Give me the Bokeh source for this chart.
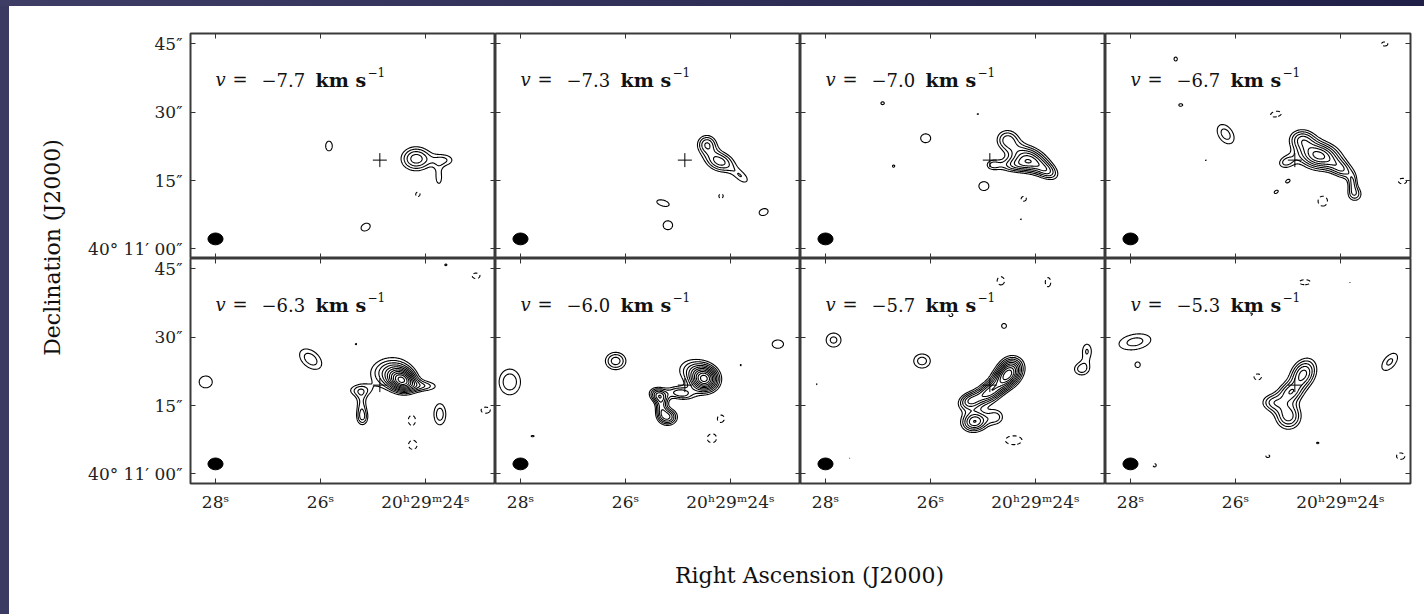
import numpy as np
from bokeh.plotting import figure
from bokeh.layouts import row, column
from bokeh.models import Range1d, FixedTicker, LinearAxis, Div
from bokeh.core.properties import value
from bokeh.embed import file_html
from bokeh.resources import INLINE

# Reference position (continuum peak): 20h29m24.87s, +40d11'19.5"
RA0 = 24.87
DEC0 = 19.5
SEC2AS = 15.0 * np.cos(np.radians(40 + 11 / 60 + DEC0 / 3600))

velocities = ["\u22127.7", "\u22127.3", "\u22127.0", "\u22126.7",
              "\u22126.3", "\u22126.0", "\u22125.7", "\u22125.3"]

# Emission components per channel: (x offset west ["], y offset north ["],
# peak [sigma], major sigma ["], minor sigma ["], position angle [deg])
ch_m77 = [
    (7.9, 0.3, 6.6, 2.6, 2.1, 0), (14.2, 0.0, 3.8, 2.1, 1.3, 0),
    (12.9, -4.0, 3.5, 0.9, 1.9, 0),
    (-11.1, 3.1, 3.5, 1.3, 1.9, 0), (-3.1, -14.7, 3.5, 1.9, 1.4, 30),
    (8.3, -7.5, -3.25, 1.2, 1.2, 0),
]
ch_m73 = [
    (7.6, -0.3, 6.5, 2.6, 1.7, -20), (4.8, 3.6, 5.6, 1.7, 1.6, 0),
    (12.5, -3.8, 3.6, 2.0, 1.1, -40),
    (-4.8, -9.4, 3.5, 2.4, 1.1, -15), (-3.7, -14.3, 3.6, 1.7, 1.6, 0),
    (17.2, -11.4, 3.5, 1.8, 1.3, 20), (7.9, -7.9, -3.25, 1.2, 1.2, 0),
]
ch_m70 = [
    (8.6, 0.2, 8.0, 3.2, 2.0, -25), (3.8, 4.6, 5.0, 2.0, 1.8, 0),
    (12.8, -2.6, 4.2, 2.0, 1.3, -30), (4.8, -1.2, 4.2, 2.6, 1.2, 0),
    (0.5, -1.0, 3.4, 1.3, 1.0, 0),
    (-23.4, 12.5, 3.15, 1.2, 1.0, 0), (-14.0, 4.8, 3.6, 1.8, 1.6, 0),
    (-21.0, -1.3, 3.1, 1.0, 1.0, 0), (-2.6, 10.1, 3.05, 1.0, 0.6, 0),
    (-1.3, -5.7, 3.6, 1.8, 1.6, 0), (7.4, -8.5, -3.3, 1.3, 1.2, 0),
    (6.8, -13.0, 3.05, 0.7, 0.7, 0),
]
ch_m67 = [
    (5.2, 1.0, 9.3, 3.4, 2.2, -10), (1.5, 4.8, 5.0, 2.2, 1.7, 0),
    (-2.0, -0.5, 4.0, 1.6, 1.2, 20), (10.5, -2.2, 4.8, 2.2, 1.4, -30),
    (13.1, -7.5, 4.6, 1.4, 1.4, 0), (12.6, -5.0, 3.4, 0.8, 1.4, 0),
    (-15.1, 5.7, 4.5, 2.6, 1.7, -55), (-24.9, 12.1, 3.2, 1.2, 0.8, 0),
    (-26.0, 22.2, 3.2, 1.0, 1.2, 0), (-4.1, 10.1, -3.4, 2.4, 1.2, 10),
    (-19.4, 0.0, 3.05, 0.7, 0.6, 0), (-1.5, -4.6, 3.2, 1.2, 0.8, 30),
    (-4.1, -7.0, 3.2, 1.2, 0.8, 30), (6.1, -9.0, -3.6, 1.7, 1.8, 0),
    (6.5, -13.0, 3.1, 1.1, 0.7, 0), (19.6, 25.5, -3.3, 1.6, 1.0, 0),
    (23.5, -4.6, -3.4, 1.8, 1.2, 0),
]
ch_m63 = [
    (5.0, 0.9, 10.5, 2.2, 1.8, -20), (2.0, 3.0, 5.5, 3.6, 2.6, 10),
    (10.0, -0.2, 4.0, 2.4, 1.0, 0), (-4.5, -1.2, 4.0, 2.2, 1.2, 0),
    (-4.0, -4.2, 3.6, 1.0, 1.8, 0), (-3.8, -7.2, 4.6, 1.1, 1.5, 0),
    (-38.0, 0.7, 3.7, 2.2, 2.0, 0), (-15.1, 5.7, 4.6, 3.0, 1.9, -40),
    (-5.2, 9.0, 3.05, 0.7, 0.7, 0), (14.4, 26.4, 3.1, 1.0, 0.7, 0),
    (21.0, 24.0, -3.4, 1.7, 1.2, 0), (13.1, -6.4, 4.6, 1.4, 2.5, 0),
    (7.0, -7.7, -3.5, 1.4, 1.9, 0), (7.2, -13.2, -3.5, 1.6, 1.6, 0),
    (23.1, -5.5, -3.5, 1.8, 1.2, 0),
]
ch_m60 = [
    (4.4, 1.2, 11.0, 2.2, 2.0, 0), (1.5, 3.5, 4.0, 3.0, 2.2, 0),
    (-1.0, -1.8, 5.5, 2.2, 1.1, -10), (-5.8, -2.2, 6.5, 1.6, 1.2, -20),
    (-5.2, -4.8, 4.5, 1.0, 1.6, 0), (-3.7, -7.0, 7.0, 1.6, 1.4, 0),
    (-38.2, 0.7, 4.8, 2.4, 2.9, 0), (-15.1, 5.3, 5.6, 2.0, 1.7, 0),
    (12.2, 4.4, 3.05, 0.7, 0.7, 0), (20.3, 9.0, 3.7, 1.9, 1.4, 0),
    (7.9, -7.3, -3.4, 1.4, 1.4, 0), (5.9, -11.7, -3.5, 1.8, 1.7, 0),
    (-33.2, -11.2, 3.1, 1.4, 0.6, 0),
]
ch_m57 = [
    (3.7, 2.0, 9.5, 2.2, 1.8, 30), (0.0, -1.5, 8.0, 2.5, 1.6, 30),
    (-4.5, -3.5, 6.0, 2.0, 1.4, 20), (-3.3, -8.0, 8.0, 2.2, 1.7, 10),
    (1.5, -7.0, 4.0, 1.5, 1.5, 0), (5.0, 4.5, 4.5, 2.0, 1.8, 0),
    (-34.1, 9.9, 4.3, 1.9, 1.8, 0), (-14.8, 5.3, 4.5, 2.0, 1.7, 0),
    (-37.8, 0.2, 3.05, 0.6, 0.6, 0), (3.1, 13.0, 3.3, 1.2, 1.2, 0),
    (-8.5, 15.4, -3.2, 1.2, 1.0, 0), (2.4, 22.9, -3.4, 1.6, 1.8, 0),
    (12.7, 22.6, -3.4, 1.2, 2.0, 0), (20.0, 3.5, 4.4, 1.7, 1.4, 0),
    (21.2, 7.5, 4.05, 1.2, 1.9, 0), (5.2, -12.1, -3.7, 2.8, 1.5, 0),
    (-30.6, -16.0, 3.02, 0.6, 0.6, 0),
]
ch_m53 = [
    (1.8, 2.4, 7.4, 2.8, 2.0, 60), (-1.4, -6.8, 6.6, 2.2, 2.3, 0),
    (-1.2, -1.6, 4.8, 2.0, 1.6, 0), (-5.0, -3.8, 4.6, 2.0, 1.5, 0),
    (-34.9, 9.5, 4.4, 4.0, 1.9, 10), (-34.3, 4.4, 3.3, 1.1, 1.1, 0),
    (-8.1, 1.8, -3.4, 1.6, 1.3, 0), (2.2, 22.6, -3.4, 2.4, 1.1, 0),
    (-9.6, 15.6, -3.15, 1.1, 0.8, 0), (12.0, 22.6, 3.03, 0.6, 0.6, 0),
    (20.7, 5.1, 4.2, 2.7, 1.5, 50), (5.0, -12.7, 3.1, 1.0, 0.7, 0),
    (-5.9, -15.6, -3.2, 1.2, 0.8, 0), (-30.6, -17.6, -3.2, 1.0, 1.0, 0),
    (23.1, -15.6, -3.4, 1.8, 1.4, 0),
]
channels = [ch_m77, ch_m73, ch_m70, ch_m67, ch_m63, ch_m60, ch_m57, ch_m53]

contour_levels = [3, 4, 5, 6, 7, 8, 9, 10, 11, 12, 13, 14, 15]
negative_levels = [-3]

ra_ticks = [28, 26, 24]
ra_tick_labels = ["28\u02e2", "26\u02e2", "20\u02b029\u1d5024\u02e2"]
dec_ticks = [0, 15, 30, 45]
dec_tick_labels = ["40\u00b0 11\u2032 00\u2033", "15\u2033", "30\u2033", "45\u2033"]

# synthesized beam: centre (RA s, Dec "), major / minor FWHM (")
beam_ra, beam_dec, beam_major, beam_minor = 28.0, 2.2, 3.3, 2.6

FONT = "DejaVu Serif"
FRAME_W, FRAME_H = 305, 225

ra_grid = np.linspace(22.5, 28.6, 380)
dec_grid = np.linspace(-3.0, 48.5, 320)
RA, DE = np.meshgrid(ra_grid, dec_grid)
U = (RA0 - RA) * SEC2AS
V = DE - DEC0


def emission(comps):
    z = np.zeros_like(U)
    for u0, v0, amp, sa, sb, pa in comps:
        t = np.radians(pa)
        du, dv = U - u0, V - v0
        a = du * np.cos(t) + dv * np.sin(t)
        b = -du * np.sin(t) + dv * np.cos(t)
        z += amp * np.exp(-0.5 * ((a / sa) ** 2 + (b / sb) ** 2))
    return z


def add_axis(p, side, ticks, labels, show):
    ax = LinearAxis(ticker=FixedTicker(ticks=ticks))
    if show:
        ax.major_label_overrides = dict(zip(ticks, labels))
        ax.major_label_text_font_size = "17px"
        ax.major_label_standoff = 8
    else:
        ax.major_label_overrides = {t: "" for t in ticks}
        ax.major_label_text_font_size = "0px"
        ax.major_label_standoff = 0
    ax.major_label_text_font = FONT
    ax.major_label_text_color = "#222222"
    ax.axis_line_color = None
    ax.major_tick_in = 5
    ax.major_tick_out = 0
    ax.major_tick_line_color = "#333333"
    ax.major_tick_line_width = 1
    ax.minor_tick_line_color = None
    p.add_layout(ax, side)


def make_panel(i):
    col, rw = i % 4, i // 4
    p = figure(frame_width=FRAME_W, frame_height=FRAME_H,
               x_range=Range1d(28.476, 22.667), y_range=Range1d(-2.1, 47.3),
               output_backend="svg", toolbar_location=None, title=None,
               x_axis_location=None, y_axis_location=None,
               min_border_left=111 if col == 0 else 0,
               min_border_right=14 if col == 3 else 0,
               min_border_top=27 if rw == 0 else 0,
               min_border_bottom=40 if rw == 1 else 0)
    p.grid.visible = False
    p.outline_line_color = "#3a3a3a"
    p.outline_line_width = 2
    p.background_fill_color = "white"
    p.border_fill_color = "white"

    add_axis(p, "left", dec_ticks, dec_tick_labels, col == 0)
    add_axis(p, "below", ra_ticks, ra_tick_labels, rw == 1)
    add_axis(p, "right", dec_ticks, dec_tick_labels, False)
    add_axis(p, "above", ra_ticks, ra_tick_labels, False)

    z = emission(channels[i])
    p.contour(ra_grid, dec_grid, z, levels=contour_levels,
              line_color="black", line_width=1.1)
    if z.min() < negative_levels[0]:
        p.contour(ra_grid, dec_grid, z, levels=negative_levels,
                  line_color="black", line_width=1.1, line_dash="4 3")

    p.scatter([RA0], [DEC0], marker="cross", size=14,
              line_color="black", line_width=1)
    p.ellipse(x=[beam_ra], y=[beam_dec], width=[beam_major / SEC2AS],
              height=[beam_minor], fill_color="black", line_color="black")

    # velocity label: v = <value> km s^-1
    lx, ly = [28.0], [37.2]
    common = dict(text_font=value(FONT), text_color="#111111",
                  text_baseline="alphabetic", text_align="left")
    p.text(lx, ly, text=["v"], text_font_size="18px",
           text_font_style="italic", **common)
    p.text(lx, ly, text=["="], x_offset=17, text_font_size="18px", **common)
    p.text(lx, ly, text=[velocities[i]], x_offset=46,
           text_font_size="18px", **common)
    p.text(lx, ly, text=["km s"], x_offset=100, text_font_size="19px",
           text_font_style="bold", **common)
    p.text(lx, ly, text=["\u22121"], x_offset=152, y_offset=-8,
           text_font_size="12px", **common)
    return p


panels = [make_panel(i) for i in range(8)]

ytitle = figure(width=70, height=608, x_range=Range1d(0, 70),
                y_range=Range1d(0, 608), output_backend="svg",
                toolbar_location=None, title=None, min_border=0,
                x_axis_location=None, y_axis_location=None)
ytitle.grid.visible = False
ytitle.outline_line_color = None
ytitle.text([43], [367], text=["Declination (J2000)"], angle=np.pi / 2,
            text_align="center", text_baseline="middle",
            text_font=value(FONT), text_font_size="22px", text_color="#111111")

xtitle = figure(width=1345, height=91, x_range=Range1d(0, 1345),
                y_range=Range1d(0, 91), output_backend="svg",
                toolbar_location=None, title=None, min_border=0,
                x_axis_location=None, y_axis_location=None)
xtitle.grid.visible = False
xtitle.outline_line_color = None
xtitle.text([730], [39], text=["Right Ascension (J2000)"],
            text_align="center", text_baseline="middle",
            text_font=value(FONT), text_font_size="22px", text_color="#111111")

top_band = Div(text="", width=1424, height=6, margin=0,
               styles={"background": "linear-gradient(to right, #3d3d66, #1f1f47)"})
left_band = Div(text="", width=9, height=608, margin=0,
                styles={"background-color": "#3a3a62"})

grid = column(row(*panels[:4]), row(*panels[4:]), xtitle)
layout = column(top_band, row(left_band, ytitle, grid))

open("out.html", "w").write(file_html(layout, INLINE, title="Channel maps"))
